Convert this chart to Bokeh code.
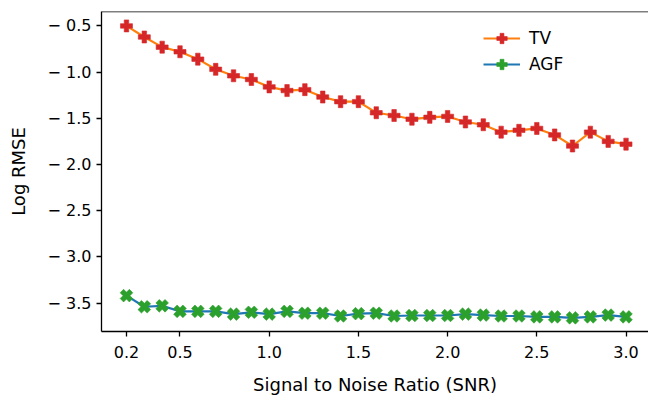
import numpy as np
from bokeh.plotting import figure
from bokeh.models import (Range1d, FixedTicker, Span, Legend, LegendItem, ColumnDataSource)
from bokeh.embed import file_html
from bokeh.resources import INLINE

snr = [0.2, 0.3, 0.4, 0.5, 0.6, 0.7, 0.8, 0.9, 1.0, 1.1, 1.2, 1.3, 1.4, 1.5,
       1.6, 1.7, 1.8, 1.9, 2.0, 2.1, 2.2, 2.3, 2.4, 2.5, 2.6, 2.7, 2.8, 2.9, 3.0]
tv = [-0.50, -0.62, -0.73, -0.78, -0.86, -0.97, -1.04, -1.08, -1.16, -1.20,
      -1.19, -1.27, -1.32, -1.32, -1.44, -1.47, -1.51, -1.49, -1.48, -1.54,
      -1.57, -1.65, -1.63, -1.61, -1.68, -1.80, -1.65, -1.75, -1.78]
agf = [-3.42, -3.54, -3.53, -3.59, -3.59, -3.59, -3.62, -3.60, -3.62, -3.59,
       -3.61, -3.61, -3.64, -3.615, -3.61, -3.64, -3.635, -3.635, -3.635, -3.62,
       -3.63, -3.64, -3.64, -3.65, -3.65, -3.66, -3.65, -3.63, -3.65]
x_ticks = [0.2, 0.5, 1.0, 1.5, 2.0, 2.5, 3.0]
x_tick_labels = ["0.2", "0.5", "1.0", "1.5", "2.0", "2.5", "3.0"]
y_ticks = [-3.5, -3.0, -2.5, -2.0, -1.5, -1.0, -0.5]
y_tick_labels = ["\u2212 3.5", "\u2212 3.0", "\u2212 2.5", "\u2212 2.0",
                 "\u2212 1.5", "\u2212 1.0", "\u2212 0.5"]

FONT = "DejaVu Sans"

p = figure(width=648, height=397, output_backend="svg", toolbar_location=None,
           x_range=Range1d(0.06, 3.126), y_range=Range1d(-3.808, -0.344),
           min_border_left=101, min_border_right=0, min_border_top=11, min_border_bottom=64)
p.outline_line_color = None
p.grid.visible = False
p.background_fill_color = "white"
p.border_fill_color = "white"

src = ColumnDataSource(dict(x=snr, tv=tv, agf=agf))
tv_line = p.line("x", "tv", source=src, line_color="#ff7f0e", line_width=2.2)
tv_pts = p.scatter("x", "tv", source=src, marker="plus", size=12,
                   fill_color="#d62728", line_color="#d62728", line_width=0.6)
agf_line = p.line("x", "agf", source=src, line_color="#1f77b4", line_width=2.2)
agf_pts = p.scatter("x", "agf", source=src, marker="plus", size=13, angle=np.pi / 4,
                    fill_color="#2ca02c", line_color="#2ca02c", line_width=0.6)

for ax in (p.xaxis[0], p.yaxis[0]):
    ax.axis_line_width = 1.3
    ax.major_tick_line_width = 1.3
    ax.major_tick_out = 5
    ax.major_tick_in = 0
    ax.minor_tick_line_color = None
    ax.major_label_text_font = FONT
    ax.major_label_text_font_size = "16px"
    ax.major_label_text_color = "black"
    ax.axis_label_text_font = FONT
    ax.axis_label_text_font_size = "18px"
    ax.axis_label_text_font_style = "normal"
    ax.axis_label_text_color = "black"

p.xaxis.ticker = FixedTicker(ticks=x_ticks)
p.xaxis.major_label_overrides = {t: l for t, l in zip(x_ticks, x_tick_labels)}
p.yaxis.ticker = FixedTicker(ticks=y_ticks)
p.yaxis.major_label_overrides = {t: l for t, l in zip(y_ticks, y_tick_labels)}
p.xaxis.axis_label = "Signal to Noise Ratio (SNR)"
p.yaxis.axis_label = "Log RMSE"
p.xaxis.major_label_standoff = 9
p.xaxis.axis_label_standoff = 13
p.yaxis.major_label_standoff = 5
p.yaxis.axis_label_standoff = 16

top = Span(location=p.y_range.end, dimension="width", line_color="black", line_width=1.3)
p.add_layout(top)

legend = Legend(items=[LegendItem(label="TV", renderers=[tv_line, tv_pts]),
                       LegendItem(label="AGF", renderers=[agf_line, agf_pts])],
                location=(382, 254), padding=0, margin=0, spacing=0,
                glyph_width=37, glyph_height=26, label_height=26, label_standoff=9,
                border_line_color=None, background_fill_alpha=0,
                label_text_font=FONT, label_text_font_size="17px", label_text_color="black")
p.add_layout(legend)

open("out.html", "w").write(file_html(p, INLINE))
